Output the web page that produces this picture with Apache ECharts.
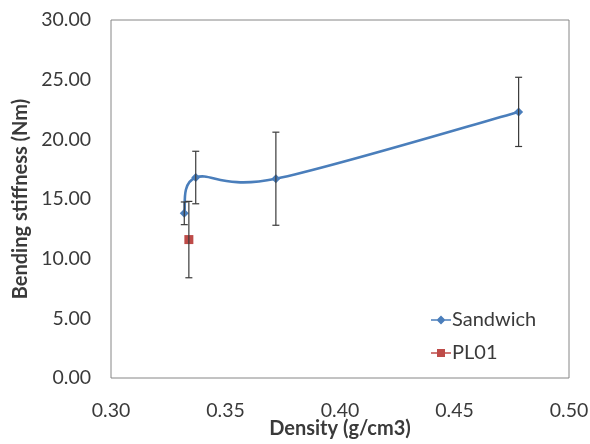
<!DOCTYPE html>
<html><head><meta charset="utf-8">
<script src="https://cdn.jsdelivr.net/npm/echarts@6/dist/echarts.min.js"></script>
<style>html,body{margin:0;padding:0;background:#fff}#c{width:590px;height:444px}</style>
</head><body><div id="c"></div>
<script>
var sandwichX = [0.332, 0.337, 0.372, 0.478];
var sandwichY = [13.8, 16.8, 16.7, 22.3];
var sandwichErr = [0.95, 2.2, 3.9, 2.9];
var pl01X = [0.334];
var pl01Y = [11.6];
var pl01Err = [3.2];
var xTicks = [0.30, 0.35, 0.40, 0.45, 0.50];
var yTicks = [0, 5, 10, 15, 20, 25, 30];

var FONT = 'Lato';
var BLUE = '#4a7ebb', RED = '#be4b48', TXT = '#3a3a3a';
function errData(xs, ys, es){ return xs.map(function(x,i){ return [x, ys[i]-es[i], ys[i]+es[i]]; }); }
function errRender(params, api){
  var lo = api.coord([api.value(0), api.value(1)]);
  var hi = api.coord([api.value(0), api.value(2)]);
  var w = 3.5;
  var st = {stroke:'#3a3a3a', lineWidth:1.2};
  return {type:'group', children:[
    {type:'line', shape:{x1:lo[0],y1:lo[1],x2:hi[0],y2:hi[1]}, style:st},
    {type:'line', shape:{x1:lo[0]-w,y1:lo[1],x2:lo[0]+w,y2:lo[1]}, style:st},
    {type:'line', shape:{x1:hi[0]-w,y1:hi[1],x2:hi[0]+w,y2:hi[1]}, style:st}
  ]};
}
// Excel-like smoothed curve (Catmull-Rom style bezier in pixel space)
function curveRender(params, api){
  var i = params.dataIndex, n = sandwichX.length;
  if (i >= n - 1) return null;
  var P = function(k){ k = Math.max(0, Math.min(n-1, k)); return api.coord([sandwichX[k], sandwichY[k]]); };
  var p0 = P(i-1), p1 = P(i), p2 = P(i+1), p3 = P(i+2);
  var t = 1/6;
  return {type:'bezierCurve', shape:{
      x1:p1[0], y1:p1[1], x2:p2[0], y2:p2[1],
      cpx1:p1[0]+(p2[0]-p0[0])*t, cpy1:p1[1]+(p2[1]-p0[1])*t,
      cpx2:p2[0]-(p3[0]-p1[0])*t, cpy2:p2[1]-(p3[1]-p1[1])*t},
    style:{stroke:BLUE, lineWidth:2.6, fill:null}};
}
var ICON_DIAMOND = 'path://M0,3.7H20V5.3H0Z M10,0L14.5,4.5L10,9L5.5,4.5Z';
var ICON_SQUARE = 'path://M0,3.7H20V5.3H0Z M6,0.5H14V8.5H6Z';
var chart = echarts.init(document.getElementById('c'));
chart.setOption({
  backgroundColor:'#fff',
  animation:false,
  grid:{left:111, right:21, top:20, bottom:66, outerBoundsMode:'none', show:true, borderColor:'#868686', borderWidth:1},
  xAxis:{type:'value', min:xTicks[0], max:xTicks[xTicks.length-1], interval:0.05,
    axisLine:{show:false}, axisTick:{show:false}, splitLine:{show:false},
    axisLabel:{formatter:function(v){return v.toFixed(2);}, fontFamily:FONT, fontSize:19.5, color:TXT, margin:23},
    name:'Density (g/cm3)', nameLocation:'middle', nameGap:41, nameMoveOverlap:false,
    nameTextStyle:{fontFamily:FONT, fontSize:20, fontWeight:'bold', color:TXT}},
  yAxis:{type:'value', min:yTicks[0], max:yTicks[yTicks.length-1], interval:5,
    axisLine:{show:false}, axisTick:{show:false}, splitLine:{show:false},
    axisLabel:{formatter:function(v){return v.toFixed(2);}, fontFamily:FONT, fontSize:19.5, color:TXT, margin:20},
    name:'Bending stiffness (Nm)', nameLocation:'middle', nameGap:80, nameMoveOverlap:false,
    nameTextStyle:{fontFamily:FONT, fontSize:20, fontWeight:'bold', color:TXT}},
  legend:{orient:'vertical', left:426, top:305, itemWidth:20, itemHeight:9, itemGap:13,
    data:[{name:'Sandwich', icon:ICON_DIAMOND}, {name:'PL01', icon:ICON_SQUARE}],
    textStyle:{fontFamily:FONT, fontSize:20, color:TXT, padding:[0,0,0,-4]}},
  series:[
    {type:'custom', renderItem:curveRender, data:sandwichX.map(function(x,i){return [x, sandwichY[i]];}), z:1, silent:true},
    {name:'Sandwich', type:'line',
      data:sandwichX.map(function(x,i){return [x, sandwichY[i]];}),
      symbol:'diamond', symbolSize:9,
      lineStyle:{color:BLUE, width:2.6, opacity:0}, itemStyle:{color:BLUE}, z:2},
    {name:'PL01', type:'line',
      data:pl01X.map(function(x,i){return [x, pl01Y[i]];}),
      symbol:'rect', symbolSize:9,
      lineStyle:{color:RED, width:2.6}, itemStyle:{color:RED}, z:2},
    {type:'custom', renderItem:errRender, data:errData(sandwichX, sandwichY, sandwichErr), z:3, silent:true},
    {type:'custom', renderItem:errRender, data:errData(pl01X, pl01Y, pl01Err), z:3, silent:true}
  ]
});
</script></body></html>
